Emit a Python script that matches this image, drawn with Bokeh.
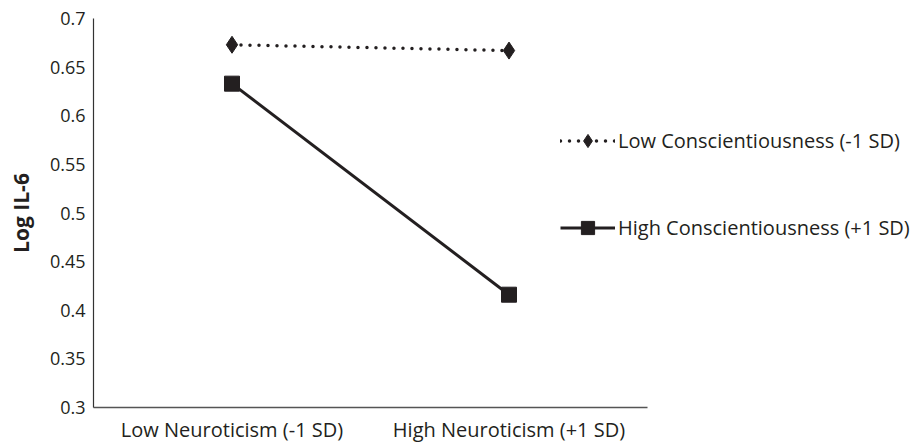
from bokeh.plotting import figure
from bokeh.models import Range1d, FixedTicker, Legend, LegendItem
from bokeh.embed import file_html
from bokeh.resources import INLINE

categories = ["Low Neuroticism (-1 SD)", "High Neuroticism (+1 SD)"]
low_consc = [0.673, 0.667]
high_consc = [0.633, 0.416]
series_names = ["Low Conscientiousness (-1 SD)", "High Conscientiousness (+1 SD)"]
y_ticks = [0.3, 0.35, 0.4, 0.45, 0.5, 0.55, 0.6, 0.65, 0.7]
y_tick_labels = ["0.3", "0.35", "0.4", "0.45", "0.5", "0.55", "0.6", "0.65", "0.7"]

INK = "#231f20"
FONT = "Open Sans"

W, H = 921, 445
LEFT, TOP = 93, 18
AXIS_END = 647  # pixel where the category axis ends
n = len(categories)
x_pos = [i + 0.5 for i in range(n)]
unit = (AXIS_END - LEFT) / n
x_end = (W - LEFT) / unit

p = figure(width=W, height=H, x_range=Range1d(0, x_end), y_range=Range1d(0.3, 0.7),
           output_backend="svg", toolbar_location=None,
           min_border_left=LEFT, min_border_right=0, min_border_top=TOP, min_border_bottom=0)
p.outline_line_color = None
p.xgrid.visible = False
p.ygrid.visible = False

r1l = p.line(x_pos, low_consc, line_color=INK, line_width=3.5, line_dash="0 9", line_cap="round")
r1m = p.scatter(x_pos, low_consc, marker="diamond", size=17, fill_color=INK, line_color=INK)
r2l = p.line(x_pos, high_consc, line_color=INK, line_width=3)
r2m = p.scatter(x_pos, high_consc, marker="square", size=15, fill_color=INK, line_color=INK)

yax = p.yaxis[0]
yax.ticker = FixedTicker(ticks=y_ticks)
yax.major_label_overrides = {t: l for t, l in zip(y_ticks, y_tick_labels)}
yax.axis_label = "Log IL-6"
yax.axis_label_text_font = FONT
yax.axis_label_text_font_style = "bold"
yax.axis_label_text_font_size = "21px"
yax.axis_label_text_color = INK
yax.axis_label_standoff = 12
yax.major_label_standoff = 8
yax.major_label_text_font = FONT
yax.major_label_text_font_size = "18px"
yax.major_label_text_color = INK
yax.major_tick_line_color = None
yax.major_tick_out = 0
yax.major_tick_in = 0
yax.minor_tick_line_color = None
yax.axis_line_color = "#333333"
yax.axis_line_width = 1.2

xax = p.xaxis[0]
xax.ticker = FixedTicker(ticks=x_pos)
xax.major_label_overrides = {x: c for x, c in zip(x_pos, categories)}
xax.bounds = (0, n)
xax.axis_label = None
xax.major_label_text_font = FONT
xax.major_label_text_font_size = "20px"
xax.major_label_text_color = INK
xax.major_label_standoff = 8
xax.major_tick_line_color = None
xax.major_tick_out = 0
xax.major_tick_in = 0
xax.minor_tick_line_color = None
xax.axis_line_color = "#555555"
xax.axis_line_width = 1.5

legend = Legend(items=[LegendItem(label=series_names[0], renderers=[r1l, r1m]),
                       LegendItem(label=series_names[1], renderers=[r2l, r2m])],
                location=(467, 163), orientation="vertical",
                glyph_width=55, glyph_height=33, spacing=54, padding=0, margin=0,
                label_standoff=3, label_text_font=FONT, label_text_font_size="20px",
                label_text_color=INK, border_line_color=None, background_fill_alpha=0)
p.add_layout(legend, "center")

open("out.html", "w").write(file_html(p, INLINE))
